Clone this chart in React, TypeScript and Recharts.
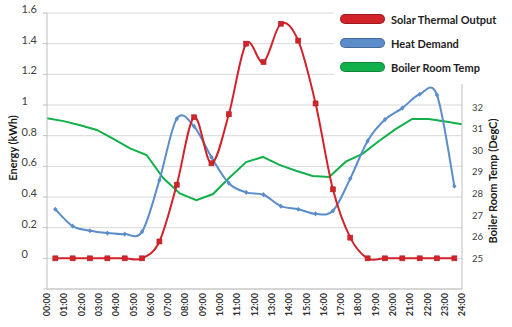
import { CartesianGrid, Legend, Line, LineChart, XAxis, YAxis } from 'recharts';

// x-axis labels (25 ticks, the series only carry 24 hourly readings)
const hourLabels = [
  '00:00', '01:00', '02:00', '03:00', '04:00', '05:00', '06:00', '07:00', '08:00',
  '09:00', '10:00', '11:00', '12:00', '13:00', '14:00', '15:00', '16:00', '17:00',
  '18:00', '19:00', '20:00', '21:00', '22:00', '23:00', '24:00',
];

// kWh, hourly
const solarThermalOutput = [
  0, 0, 0, 0, 0, 0, 0.11, 0.48, 0.92, 0.62, 0.94, 1.4,
  1.28, 1.53, 1.42, 1.01, 0.45, 0.135, 0, 0, 0, 0, 0, 0,
];
const heatDemand = [
  0.32, 0.21, 0.18, 0.165, 0.158, 0.174, 0.51, 0.91, 0.86, 0.66, 0.49, 0.43,
  0.415, 0.34, 0.32, 0.29, 0.31, 0.52, 0.765, 0.905, 0.98, 1.07, 1.065, 0.47,
];

// degC, logged on its own (secondary) time base
const boilerRoomTemp = [
  31.49, 31.36, 31.17, 30.95, 30.54, 30.1, 29.79, 28.72, 28.01, 27.7, 27.98, 28.75, 29.46,
  29.7, 29.33, 29.06, 28.82, 28.77, 29.48, 29.84, 30.44, 30.99, 31.46, 31.46, 31.34, 31.21,
];

const energyTicks = [-0.2, 0, 0.2, 0.4, 0.6, 0.8, 1, 1.2, 1.4, 1.6];
const tempTicks = [25, 26, 27, 28, 29, 30, 31, 32];

const RED = '#D2232A';
const BLUE = '#5B8DCB';
const GREEN = '#12B04B';
const AXIS = '#BFBFBF';
const FONT = 'Lato, "Liberation Sans", sans-serif';
const legendOrder = ['Solar Thermal Output', 'Heat Demand', 'Boiler Room Temp'];

const hourRows = hourLabels.map((hour) => ({ hour }));
const energyRows = solarThermalOutput.map((solar, i) => ({ i, solar, heat: heatDemand[i] }));
const tempRows = boilerRoomTemp.map((temp, k) => ({ k, temp }));

// Excel-style smoothed line (Catmull-Rom through the points)
const excelSmooth = (context: any) => {
  let pts: number[][] = [];
  return {
    areaStart() {},
    areaEnd() {},
    lineStart() {
      pts = [];
    },
    point(x: number, y: number) {
      pts.push([+x, +y]);
    },
    lineEnd() {
      if (!pts.length) return;
      context.moveTo(pts[0][0], pts[0][1]);
      for (let i = 0; i < pts.length - 1; i++) {
        const p0 = pts[Math.max(i - 1, 0)];
        const p1 = pts[i];
        const p2 = pts[i + 1];
        const p3 = pts[Math.min(i + 2, pts.length - 1)];
        context.bezierCurveTo(
          p1[0] + (p2[0] - p0[0]) / 6,
          p1[1] + (p2[1] - p0[1]) / 6,
          p2[0] - (p3[0] - p1[0]) / 6,
          p2[1] - (p3[1] - p1[1]) / 6,
          p2[0],
          p2[1],
        );
      }
    },
  };
};

function SquareDot(props: any) {
  const { cx, cy, index } = props;
  return <rect key={`sq-${index}`} x={cx - 2.5} y={cy - 2.5} width={5} height={5} fill={RED} stroke="#B01E24" strokeWidth={0.6} />;
}

function DiamondDot(props: any) {
  const { cx, cy, index } = props;
  return <path key={`dm-${index}`} d={`M${cx},${cy - 2.6}L${cx + 2.2},${cy}L${cx},${cy + 2.6}L${cx - 2.2},${cy}Z`} fill={BLUE} />;
}

function EnergyTick({ x, y, payload }: any) {
  if (payload.value < 0) return null;
  return (
    <text x={x - 19.5} y={y - 4} dy="0.35em" textAnchor="start" fontSize={11} fill="#404040" fontFamily={FONT}>
      {String(Math.round(payload.value * 10) / 10)}
    </text>
  );
}

function TempTick({ x, y, payload }: any) {
  return (
    <text x={x} y={y} dy="0.35em" textAnchor="start" fontSize={9.5} fill="#404040" fontFamily={FONT}>
      {payload.value}
    </text>
  );
}

function HourTick({ x, y, payload }: any) {
  return (
    <text
      transform={`translate(${x},${y}) rotate(-90)`}
      textAnchor="end"
      dy="0.35em"
      fontSize={9}
      fontWeight={700}
      fill="#333333"
      fontFamily={FONT}
    >
      {payload.value}
    </text>
  );
}

function AxisTitle({ tx, ty, text }: any) {
  return (
    <text
      transform={`translate(${tx},${ty}) rotate(-90)`}
      textAnchor="middle"
      dy="0.35em"
      fontSize={11}
      fontWeight={700}
      fill="#1a1a1a"
      fontFamily={FONT}
    >
      {text}
    </text>
  );
}

function LegendBox({ payload }: any) {
  const items = [...(payload || [])].sort(
    (a: any, b: any) => legendOrder.indexOf(a.value) - legendOrder.indexOf(b.value),
  );
  return (
    <div style={{ background: '#fff', height: 80, paddingTop: 3, paddingLeft: 6, boxSizing: 'border-box' }}>
      {items.map((entry: any) => (
        <div key={entry.value} style={{ display: 'flex', alignItems: 'center', height: 24 }}>
          <span
            style={{
              display: 'inline-block',
              width: 45,
              height: 10,
              borderRadius: 5,
              background: entry.color,
              border: '1px solid rgba(0,0,0,0.25)',
              boxSizing: 'border-box',
            }}
          />
          <span style={{ marginLeft: 6, fontSize: 11, fontWeight: 700, color: '#222', fontFamily: FONT }}>
            {entry.value}
          </span>
        </div>
      ))}
    </div>
  );
}

export default function App() {
  return (
    <div style={{ position: 'absolute', left: 0, top: 0, background: '#fff' }}>
      <LineChart width={512} height={327} data={hourRows} margin={{ top: 13, right: 0, bottom: 0, left: 0 }}>
        <CartesianGrid xAxisId="time" yAxisId="left" vertical={false} stroke="#D9D9D9" />
        <XAxis
          xAxisId="time"
          dataKey="hour"
          type="category"
          interval={0}
          height={38}
          tickSize={0}
          tickMargin={4}
          tickLine={false}
          axisLine={{ stroke: AXIS }}
          tick={<HourTick />}
        />
        <XAxis xAxisId="energyX" hide height={0} type="number" dataKey="i" domain={[-0.48, 23.44]} allowDataOverflow />
        <XAxis xAxisId="tempX" hide height={0} type="number" dataKey="k" domain={[0, 25]} allowDataOverflow />
        <YAxis
          yAxisId="left"
          width={47}
          domain={[-0.2, 1.6]}
          ticks={energyTicks}
          interval={0}
          allowDataOverflow
          tickSize={4}
          tickMargin={2}
          axisLine={{ stroke: AXIS }}
          tickLine={{ stroke: AXIS }}
          tick={<EnergyTick />}
          label={<AxisTitle tx={13} ty={148} text="Energy (kWh)" />}
        />
        <YAxis
          yAxisId="right"
          orientation="right"
          width={50}
          domain={[23.58, 36.37]}
          ticks={tempTicks}
          interval={0}
          allowDataOverflow
          tickSize={0}
          tickMargin={10}
          tickLine={false}
          axisLine={{ stroke: AXIS }}
          tick={<TempTick />}
          label={<AxisTitle tx={493} ty={181} text="Boiler Room Temp (DegC)" />}
        />
        <Line
          data={tempRows}
          xAxisId="tempX"
          yAxisId="right"
          dataKey="temp"
          name="Boiler Room Temp"
          type="linear"
          stroke={GREEN}
          strokeWidth={2}
          dot={false}
          isAnimationActive={false}
        />
        <Line
          data={energyRows}
          xAxisId="energyX"
          yAxisId="left"
          dataKey="heat"
          name="Heat Demand"
          type={excelSmooth as any}
          stroke={BLUE}
          strokeWidth={2}
          dot={DiamondDot}
          isAnimationActive={false}
        />
        <Line
          data={energyRows}
          xAxisId="energyX"
          yAxisId="left"
          dataKey="solar"
          name="Solar Thermal Output"
          type={excelSmooth as any}
          stroke={RED}
          strokeWidth={2}
          dot={SquareDot}
          isAnimationActive={false}
        />
        <Legend
          layout="vertical"
          align="center"
          verticalAlign="middle"
          content={<LegendBox />}
          wrapperStyle={{ left: 334, top: 4, width: 178 }}
        />
      </LineChart>
    </div>
  );
}
